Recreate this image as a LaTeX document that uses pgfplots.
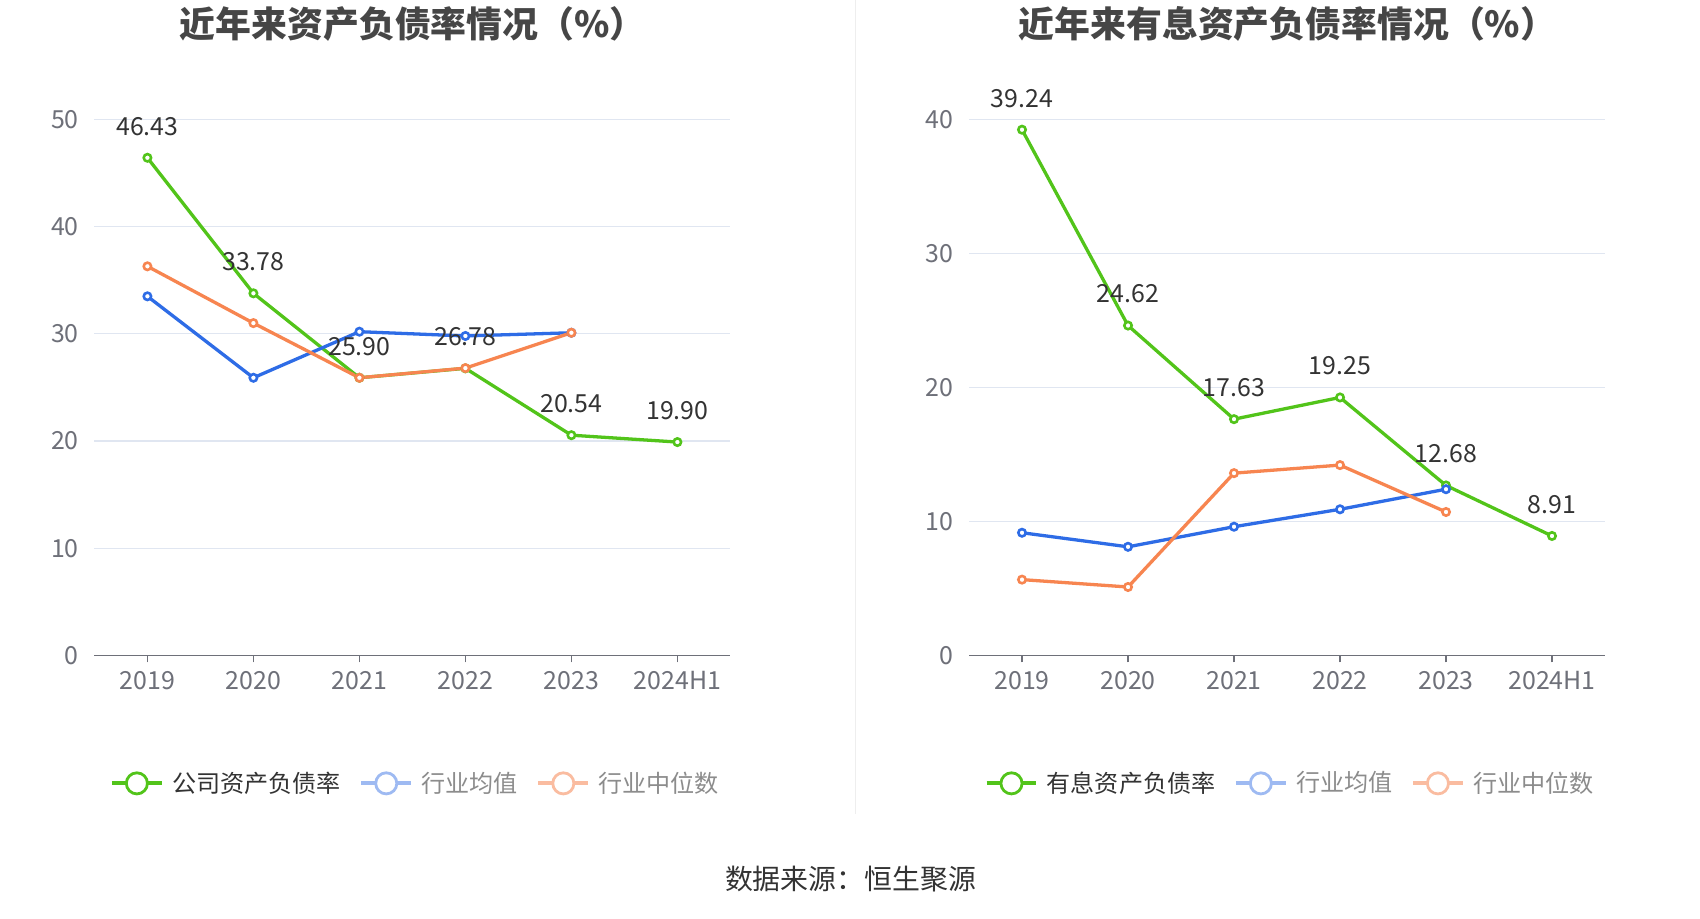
\documentclass[border=0pt]{standalone}
\usepackage{fontspec}
\setmainfont{Noto Sans CJK SC}
\usepackage{pgfplots}
\pgfplotsset{compat=1.18}
\usepackage{pgfplotstable}
\definecolor{cgreen}{RGB}{82,196,26}
\definecolor{cblue}{RGB}{46,108,230}
\definecolor{corange}{RGB}{247,133,80}
\definecolor{cgrid}{RGB}{224,230,241}
\definecolor{caxis}{RGB}{110,112,121}
\definecolor{clabel}{RGB}{51,51,51}
\definecolor{ctitle}{RGB}{70,70,70}
\definecolor{lblue}{RGB}{158,186,242}
\definecolor{lorange}{RGB}{250,188,160}
\definecolor{lgray}{RGB}{140,140,140}
\definecolor{csep}{RGB}{238,238,238}

\pgfplotstableread{
x y label
0 46.43 46.43
1 33.78 33.78
2 25.90 25.90
3 26.78 26.78
4 20.54 20.54
5 19.90 19.90
}\tabAcomp
\pgfplotstableread{
x y
0 33.5
1 25.9
2 30.2
3 29.8
4 30.1
}\tabAmean
\pgfplotstableread{
x y
0 36.3
1 31.0
2 25.9
3 26.8
4 30.1
}\tabAmed
\pgfplotstableread{
x y label
0 39.24 39.24
1 24.62 24.62
2 17.63 17.63
3 19.25 19.25
4 12.68 12.68
5 8.91 8.91
}\tabBcomp
\pgfplotstableread{
x y
0 9.15
1 8.1
2 9.6
3 10.9
4 12.4
}\tabBmean
\pgfplotstableread{
x y
0 5.65
1 5.1
2 13.6
3 14.2
4 10.7
}\tabBmed

\pgfplotsset{
  myaxis/.style={
    scale only axis, width=319.3pt, height=269pt,
    xmin=-0.5, xmax=5.5, ymin=0,
    xtick={0,...,5}, xticklabels={2019,2020,2021,2022,2023,2024H1},
    axis x line=bottom, axis y line=left,
    axis line style={-},
    y axis line style={draw=none},
    x axis line style={caxis, line width=0.75pt},
    ymajorgrids, grid style={cgrid, line width=0.6pt},
    ytick style={draw=none},
    xtick style={caxis, line width=0.75pt},
    tick align=outside, major tick length=3.5pt,
    /pgf/number format/assume math mode=true,
    ticklabel style={font=\fontsize{12.5}{14}\selectfont, text=caxis},
    xticklabel style={anchor=center, yshift=-9pt},
    yticklabel style={xshift=-0.8pt},
    clip=false,
    legend columns=3,
    legend style={at={(0.5065,-0.239)}, anchor=center, draw=none, fill=none,
      font=\fontsize{12.1}{14}\selectfont, text=clabel,
      /tikz/every odd column/.append style={column sep=2.2pt},
      /tikz/every even column/.append style={column sep=7.3pt}},
  },
  myline/.style={line width=1.65pt, mark=*, mark size=1.85pt,
    mark options={fill=white, draw=#1, line width=1.3pt, solid}, color=#1},
  mylabels/.style={draw=none, mark=none, forget plot, point meta=explicit symbolic,
    nodes near coords,
    every node near coord/.append style={anchor=center, yshift=15.8pt,
      font=\fontsize{12.5}{14}\selectfont, text=clabel}},
  leg/.style={legend image code/.code={
    \draw[#1, line width=2pt] (0pt,0pt) -- (25pt,0pt);
    \draw[#1, line width=1.4pt, fill=white] (12.5pt,0pt) circle (5.3pt);}},
}

\begin{document}
\begin{tikzpicture}
\path[use as bounding box, fill=white] (0,-1.9pt) rectangle (853.5pt,459pt);
\draw[csep, line width=0.5pt] (429.4pt,459pt) -- (429.4pt,50.4pt);

\begin{axis}[myaxis, ymax=50, ytick={0,10,...,50},
  at={(47.4pt,130pt)}, anchor=south west]
\addplot[myline=cgreen, leg=cgreen] table[x=x,y=y] {\tabAcomp};
\addlegendentry{公司资产负债率}
\addplot[myline=cblue, leg=lblue] table[x=x,y=y] {\tabAmean};
\addlegendentry{\textcolor{lgray}{行业均值}}
\addplot[myline=corange, leg=lorange] table[x=x,y=y] {\tabAmed};
\addlegendentry{\textcolor{lgray}{行业中位数}}
\addplot[mylabels] table[x=x,y=y,meta=label] {\tabAcomp};
\end{axis}

\begin{axis}[myaxis, ymax=40, ytick={0,10,...,40},
  at={(486.5pt,130pt)}, anchor=south west]
\addplot[myline=cgreen, leg=cgreen] table[x=x,y=y] {\tabBcomp};
\addlegendentry{有息资产负债率}
\addplot[myline=cblue, leg=lblue] table[x=x,y=y] {\tabBmean};
\addlegendentry{\textcolor{lgray}{行业均值}}
\addplot[myline=corange, leg=lorange] table[x=x,y=y] {\tabBmed};
\addlegendentry{\textcolor{lgray}{行业中位数}}
\addplot[mylabels] table[x=x,y=y,meta=label] {\tabBcomp};
\end{axis}

\node[font=\bfseries\fontsize{18}{20}\selectfont, text=ctitle] at (207.2pt,447pt) {近年来资产负债率情况（\%）};
\node[font=\bfseries\fontsize{18}{20}\selectfont, text=ctitle] at (646.4pt,447pt) {近年来有息资产负债率情况（\%）};
\node[font=\fontsize{14}{16}\selectfont, text=clabel] at (427pt,17.5pt) {数据来源：恒生聚源};
\end{tikzpicture}
\end{document}
